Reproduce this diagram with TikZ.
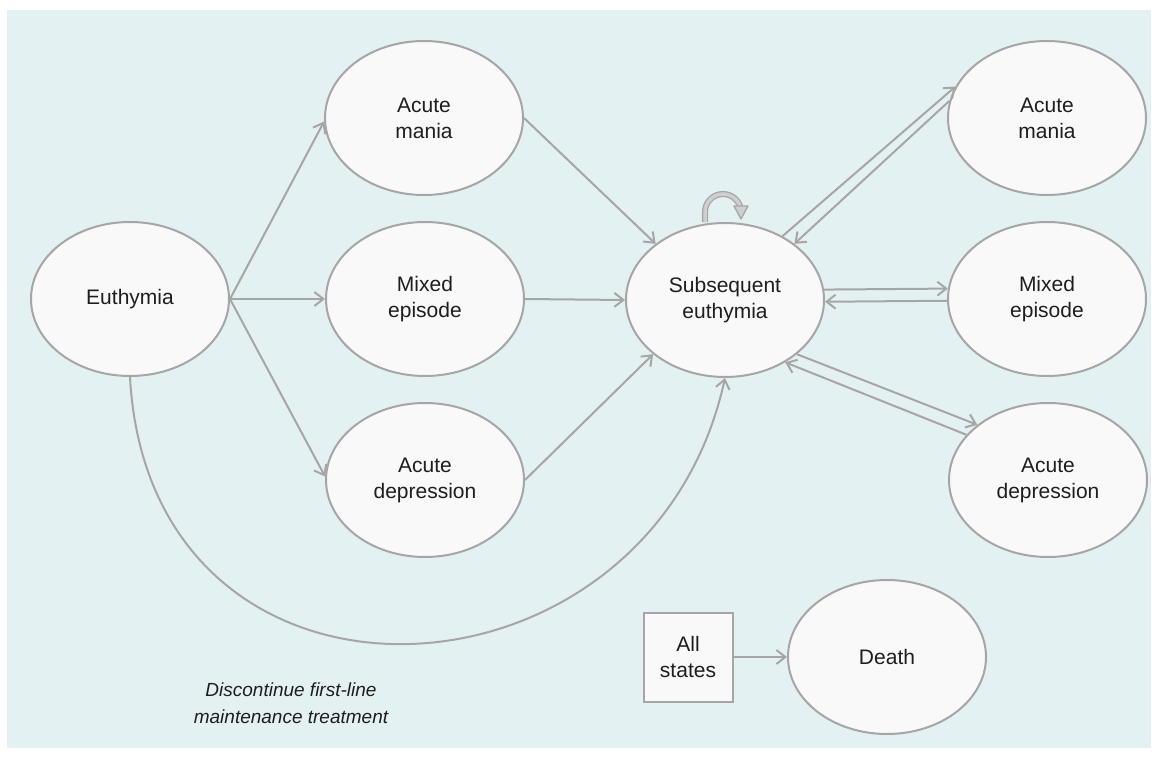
\documentclass[tikz,border=0pt]{standalone}
\usepackage{fontspec}
\setmainfont{Liberation Sans}
\usetikzlibrary{arrows.meta,shapes.geometric}
\definecolor{bg}{HTML}{E4F1F2}
\definecolor{nodefill}{HTML}{F9F9FA}
\definecolor{edge}{HTML}{A6A6A6}
\definecolor{loopfill}{HTML}{CFCFCF}
\definecolor{txt}{HTML}{1E1E1E}
\begin{document}
\begin{tikzpicture}[x=1pt,y=-1pt,
  state/.style={ellipse, draw=edge, fill=nodefill, line width=2pt,
    minimum width=198pt, minimum height=154pt, inner sep=0pt, align=center,
    font=\fontsize{21}{26}\selectfont, text=txt},
  allbox/.style={rectangle, draw=edge, fill=nodefill, line width=2pt,
    minimum size=89pt, inner sep=0pt, align=center,
    font=\fontsize{21}{26}\selectfont, text=txt},
  conn/.style={draw=edge, line width=2pt, -{Straight Barb[length=9pt,width=14pt]}},
  note/.style={font=\itshape\fontsize{19}{27}\selectfont, align=center, text=txt}
]
\useasboundingbox (0,0) rectangle (1157,760);
\fill[bg] (7,10) rectangle (1151,748);

\node[state] (eu) at (130,299) {Euthymia};
\node[state] (lm) at (424,118) {Acute\\mania};
\node[state] (mix) at (425,299) {Mixed\\episode};
\node[state] (ld) at (425,480) {Acute\\depression};
\node[state] (sub) at (725,300) {Subsequent\\euthymia};
\node[state] (rm) at (1047,118) {Acute\\mania};
\node[state] (rmix) at (1047,299) {Mixed\\episode};
\node[state] (rd) at (1048,480) {Acute\\depression};
\node[state] (death) at (887,657) {Death};
\node[allbox] (all) at (688,657) {All\\states};

\draw[conn] (eu.east) -- (lm.182);
\draw[conn] (eu.east) -- (mix.west);
\draw[conn] (eu.east) -- (ld.178);
\draw[conn] (lm.east) -- (sub.141);
\draw[conn] (mix.east) -- (sub.west);
\draw[conn] (ld.east) -- (sub.217);
\draw[conn] (eu.south) .. controls (150,745) and (650,720) .. (sub.south);

\draw[conn] (sub.48) -- (rm.161);
\draw[conn] (rm.170) -- (sub.39);
\draw[conn] (sub.6.5) -- (rmix.174);
\draw[conn] (rmix.181) -- (sub.-1);
\draw[conn] (sub.-37) -- (rd.142);
\draw[conn] (rd.151) -- (sub.-46);
\draw[conn] (all.east) -- (death.west);

\node[note] (lbl) at (291,703) {Discontinue first-line\\maintenance treatment};

\draw[draw=edge, line width=1.3pt, double=loopfill, double distance=3.5pt]
  (705,222) -- (705,212) arc[start angle=180,end angle=360,radius=18] -- (741,207);
\filldraw[draw=edge, fill=loopfill, line width=1.3pt, line join=round]
  (734,206) -- (748,206) -- (741,219) -- cycle;
\end{tikzpicture}
\end{document}
